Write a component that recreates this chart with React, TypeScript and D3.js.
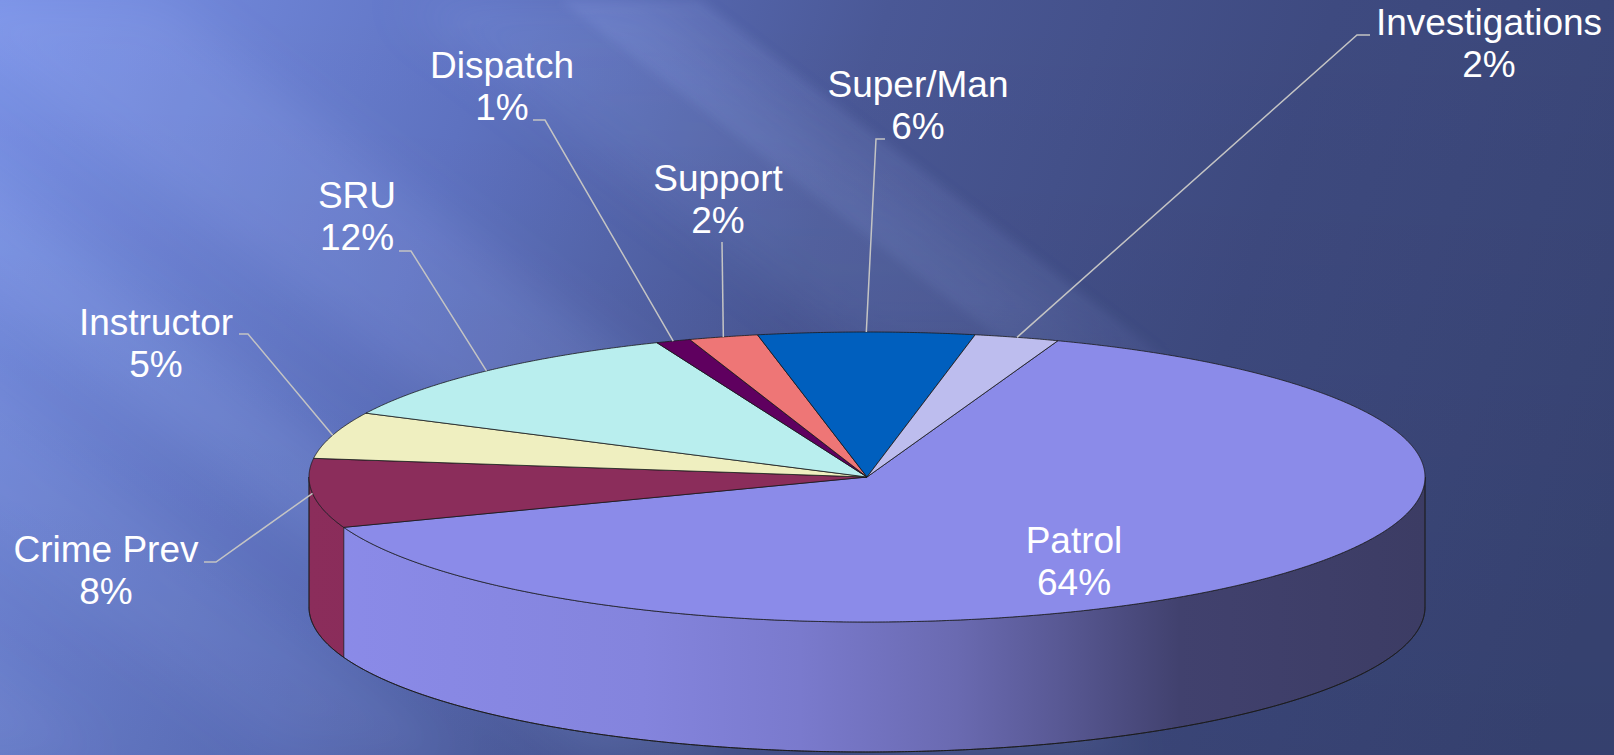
import React from 'react';
import * as d3 from 'd3';

// ---- data ----
const categories = ['Patrol', 'Crime Prev', 'Instructor', 'SRU', 'Dispatch', 'Support', 'Super/Man', 'Investigations'];
const values = [63.8, 7.7, 5.2, 11.6, 1.0, 2.0, 6.25, 2.45];
const colors = ['#8b8be9', '#8b2d5b', '#efefc0', '#b9eeee', '#5f005f', '#ee7676', '#005fbe', '#bdbdee'];

// ---- layout (label anchors and leader elbows) ----
const labelAnchors: [number, number][] = [
  [1074, 553], [106, 562], [156, 335], [357, 208], [502, 78], [718, 191], [918, 97], [1489, 35],
];
const leaderElbows: ([number, number][] | null)[] = [
  null,
  [[204, 562], [216, 562]],
  [[239, 334], [248, 334]],
  [[399, 251], [411, 251]],
  [[533, 120], [545, 120]],
  [[722, 242]],
  [[885, 139], [876, 139]],
  [[1370, 35], [1357, 35]],
];

const W = 1614, H = 755;
const cx = 867, cy = 477, rx = 558, ry = 145, depth = 130;
const START = (20 * Math.PI) / 180;
const shade: [number, number][] = [[0, 1], [0.3, 0.95], [0.44, 0.88], [0.58, 0.76], [0.67, 0.64], [0.78, 0.47], [1, 0.43]];

const pt = (a: number, dy = 0): [number, number] => [cx + rx * Math.sin(a), cy - ry * Math.cos(a) + dy];
const arcPts = (a0: number, a1: number, dy = 0): [number, number][] => {
  const n = Math.max(2, Math.ceil(Math.abs(a1 - a0) / 0.005));
  return d3.range(n + 1).map((i) => pt(a0 + ((a1 - a0) * i) / n, dy));
};
const line = d3.line();

// streak bands in u = x - 1.3*y
const K = 1.3;
const band = (a: number, b: number) =>
  [[a, 0], [b, 0], [b + K * H, H], [a + K * H, H]].map((p) => p.join(',')).join(' ');

export default function App() {
  const total = d3.sum(values);
  const arcs = d3.pie<number>().sort(null).startAngle(START).endAngle(START + 2 * Math.PI)(values);

  const sides = arcs
    .map((d, i) => {
      const a0 = Math.max(d.startAngle, Math.PI / 2);
      const a1 = Math.min(d.endAngle, (3 * Math.PI) / 2);
      if (a1 <= a0) return null;
      const pts = [...arcPts(a0, a1), ...arcPts(a1, a0, depth)];
      return { i, d: line(pts) + 'Z' };
    })
    .filter(Boolean) as { i: number; d: string }[];

  return (
    <svg width={W} height={H} style={{ position: 'absolute', left: 0, top: 0, display: 'block' }}
      fontFamily="'Liberation Sans', Arial, sans-serif">
      <defs>
        <linearGradient id="bg" gradientUnits="userSpaceOnUse" x1={0} y1={0} x2={1614} y2={520}>
          <stop offset="0" stopColor="#7a92e6" />
          <stop offset="0.28" stopColor="#5f73c2" />
          <stop offset="0.5" stopColor="#4a5896" />
          <stop offset="0.75" stopColor="#3e4a80" />
          <stop offset="1" stopColor="#394576" />
        </linearGradient>
        <linearGradient id="bgv" x1="0" y1="0" x2="0" y2="1">
          <stop offset="0" stopColor="#000" stopOpacity="0" />
          <stop offset="1" stopColor="#000" stopOpacity="0.07" />
        </linearGradient>
        <linearGradient id="fadeTop" gradientUnits="userSpaceOnUse" x1={0} y1={0} x2={0} y2={460}>
          <stop offset="0" stopColor="#fff" stopOpacity="1" />
          <stop offset="0.65" stopColor="#fff" stopOpacity="0.7" />
          <stop offset="1" stopColor="#fff" stopOpacity="0" />
        </linearGradient>
        <mask id="mTop" maskUnits="userSpaceOnUse" x={0} y={0} width={W} height={H}>
          <rect x={0} y={0} width={W} height={H} fill="url(#fadeTop)" />
        </mask>
        <filter id="blur1" x="-20%" y="-20%" width="140%" height="140%">
          <feGaussianBlur stdDeviation="24" />
        </filter>
        <filter id="blur2" x="-20%" y="-20%" width="140%" height="140%">
          <feGaussianBlur stdDeviation="5" />
        </filter>
        {sides.map((s) => (
          <linearGradient key={s.i} id={`side${s.i}`} gradientUnits="userSpaceOnUse" x1={cx - rx} y1={0} x2={cx + rx} y2={0}>
            {shade.map(([o, f]) => {
              const c = d3.rgb(colors[s.i]);
              return <stop key={o} offset={o} stopColor={d3.rgb(c.r * f, c.g * f, c.b * f).formatHex()} />;
            })}
          </linearGradient>
        ))}
      </defs>

      {/* background */}
      <rect x={0} y={0} width={W} height={H} fill="url(#bg)" />
      <g filter="url(#blur1)" fill="#a9bdff">
        <polygon points={band(-80, 160)} opacity={0.16} />
        <polygon points={band(-390, -250)} opacity={0.17} />
        <polygon points={band(-700, -520)} opacity={0.1} />
        <polygon points={band(-1050, -880)} opacity={0.1} />
      </g>
      <g mask="url(#mTop)">
        <g filter="url(#blur1)" fill="#a9bdff">
          <polygon points={band(400, 640)} opacity={0.14} />
        </g>
        <g filter="url(#blur2)" fill="#a9bdff">
          <polygon points={band(560, 700)} opacity={0.13} />
        </g>
      </g>
      <rect x={0} y={0} width={W} height={H} fill="url(#bgv)" />

      {/* side faces */}
      {sides.map((s) => (
        <path key={s.i} d={s.d} fill={`url(#side${s.i})`} stroke="#222" strokeWidth={0.6} />
      ))}
      <path d={line(arcPts(Math.PI / 2, (3 * Math.PI) / 2, depth)) as string} fill="none" stroke="#1a1a1a" strokeWidth={1} />
      <line x1={cx - rx} y1={cy} x2={cx - rx} y2={cy + depth} stroke="#1a1a1a" strokeWidth={0.8} />
      <line x1={cx + rx} y1={cy} x2={cx + rx} y2={cy + depth} stroke="#1a1a1a" strokeWidth={0.8} />

      {/* top faces */}
      {arcs.map((d, i) => (
        <path key={i} d={line([[cx, cy], ...arcPts(d.startAngle, d.endAngle)]) + 'Z'}
          fill={colors[i]} stroke="#1a1a1a" strokeWidth={0.8} strokeLinejoin="round" />
      ))}

      {/* leader lines */}
      {arcs.map((d, i) => {
        const el = leaderElbows[i];
        if (!el) return null;
        const mid = pt((d.startAngle + d.endAngle) / 2);
        return <polyline key={i} points={[...el, mid].map((p) => p.join(',')).join(' ')}
          fill="none" stroke="#c4c4c4" strokeWidth={1.5} />;
      })}

      {/* labels */}
      {arcs.map((d, i) => {
        const [x, y] = labelAnchors[i];
        return (
          <text key={i} x={x} y={y} fill="#ffffff" fontSize={37} textAnchor="middle">
            <tspan x={x} y={y}>{categories[i]}</tspan>
            <tspan x={x} y={y + 42}>{Math.round((values[i] / total) * 100)}%</tspan>
          </text>
        );
      })}
    </svg>
  );
}
